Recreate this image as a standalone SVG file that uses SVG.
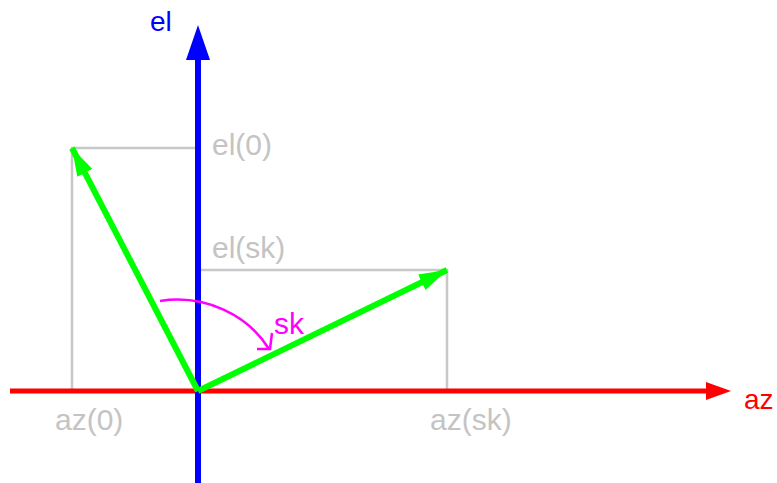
<svg xmlns="http://www.w3.org/2000/svg" width="777" height="483" viewBox="0 0 777 483">
<style>
text{font-family:"Liberation Sans",Arial,sans-serif}
.g{fill:none;stroke:#c8c8c8;stroke-width:2.5}
.gl{fill:#c4c4c4;font-size:30px}
.vec{stroke:#00ff00;stroke-width:6;fill:none}
</style>
<defs>
<marker id="ga" markerUnits="userSpaceOnUse" markerWidth="32" markerHeight="30" refX="28" refY="10" orient="auto" viewBox="0 0 32 20">
<path d="M0,1.5 L28,10 L0,18.5 Z" fill="#00ff00"/>
</marker>
</defs>
<rect width="777" height="483" fill="#fff"/>
<g id="guides">
<polyline class="g" points="198,148 72,148 72,391"/>
<polyline class="g" points="198,270 447,270 447,391"/>
</g>
<g id="az-axis">
<line x1="10" y1="391" x2="710" y2="391" stroke="#ff0000" stroke-width="5"/>
<path d="M706,382 L731,391 L706,400 Z" fill="#ff0000"/>
<text x="744" y="409" fill="#ff0000" font-size="28">az</text>
</g>
<g id="el-axis">
<line x1="198" y1="483" x2="198" y2="55" stroke="#0000ff" stroke-width="6"/>
<path d="M186,60 L198,25 L210,60 Z" fill="#0000ff"/>
<text x="150" y="31" fill="#0000ff" font-size="28">el</text>
</g>
<g id="connectors">
<line class="vec" x1="198" y1="391" x2="72" y2="148" marker-end="url(#ga)"/>
<line class="vec" x1="198" y1="391" x2="447" y2="270" marker-end="url(#ga)"/>
</g>
<g id="sk-arc">
<path d="M160,301 C205,294 248,315 269,349" fill="none" stroke="#ff00ff" stroke-width="2.5"/>
<path d="M257,349 L270,349 L272,333" fill="none" stroke="#ff00ff" stroke-width="2.5"/>
<text x="274" y="334" fill="#ff00ff" font-size="30">sk</text>
</g>
<g id="labels">
<text class="gl" x="212" y="155">el(0)</text>
<text class="gl" x="212" y="258">el(sk)</text>
<text class="gl" x="55" y="430">az(0)</text>
<text class="gl" x="430" y="430">az(sk)</text>
</g>
</svg>
